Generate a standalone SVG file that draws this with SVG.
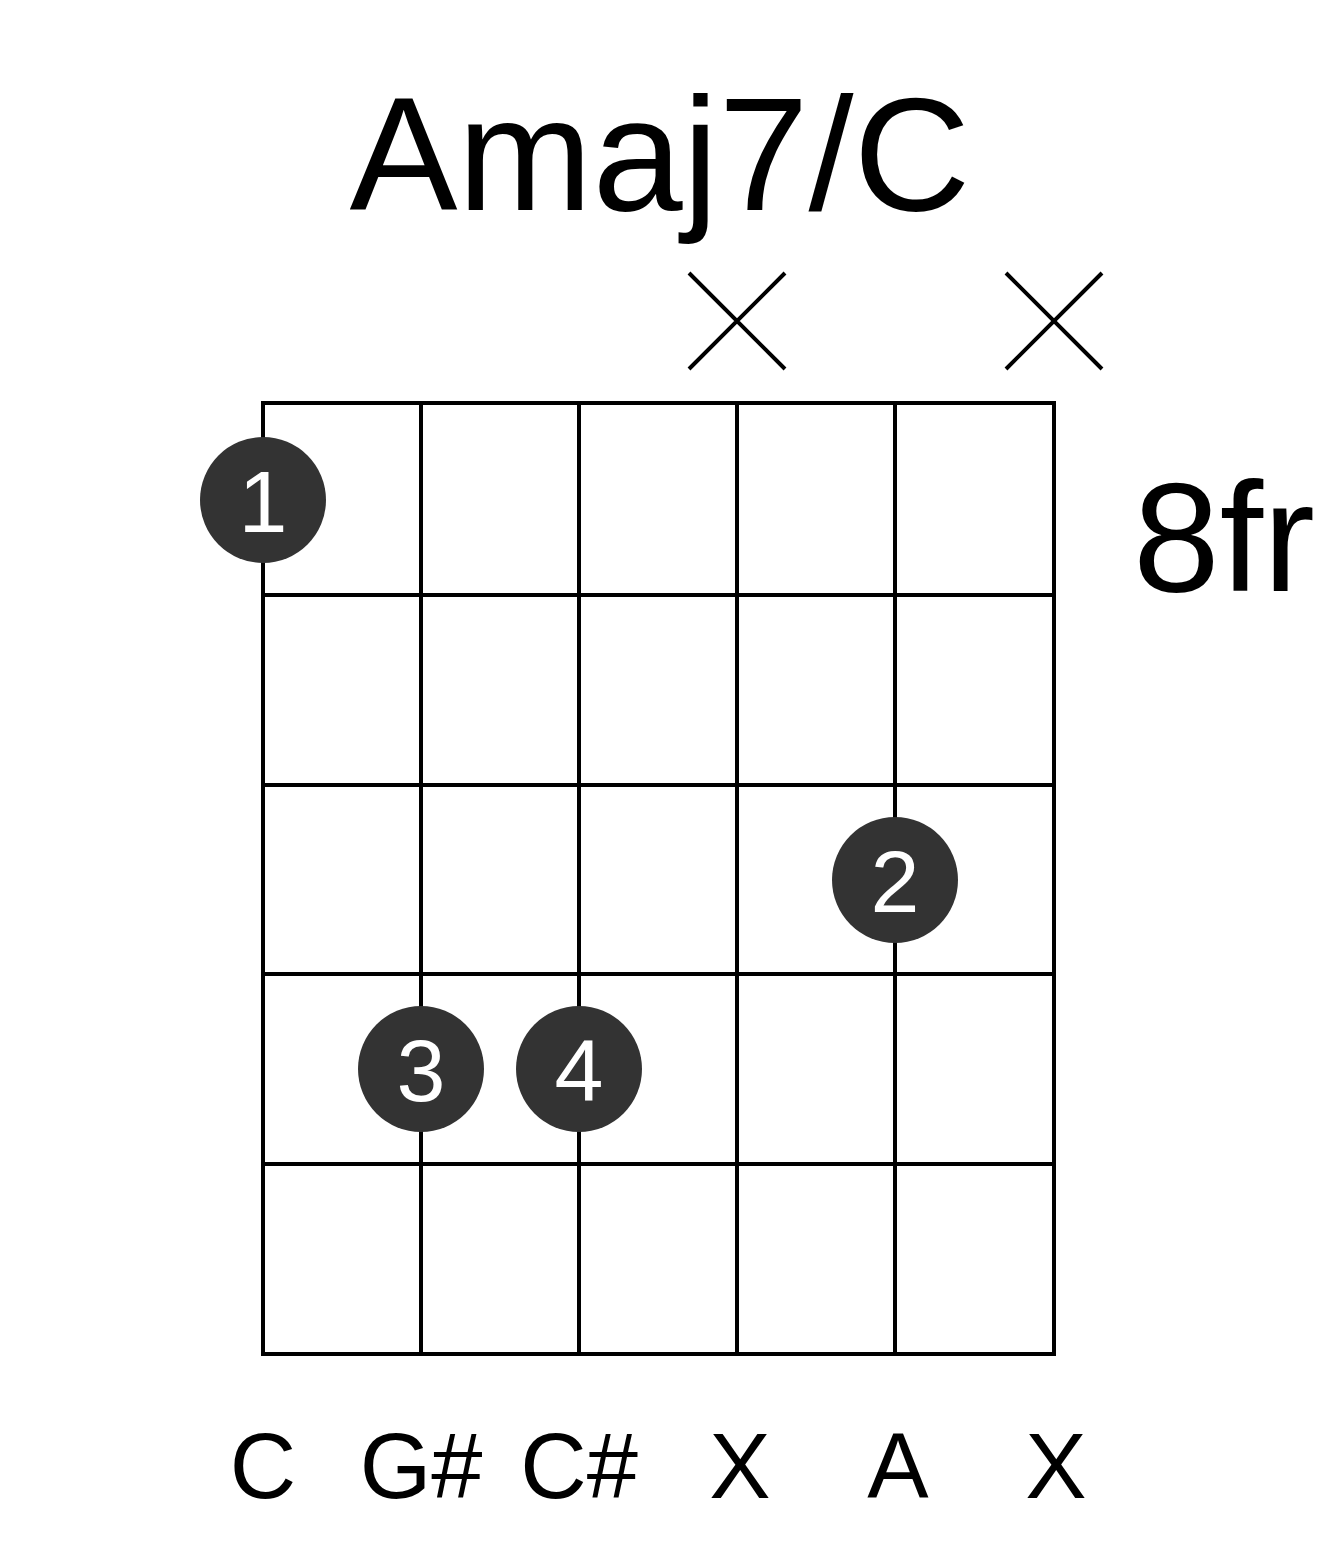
<svg xmlns="http://www.w3.org/2000/svg" width="1317" height="1551" viewBox="0 0 1317 1551">
<style>
.l{stroke:#000;stroke-width:4;fill:none}
.t{font-family:"Liberation Sans",Arial,sans-serif;fill:#000}
.d{fill:#333}
.n{font-family:"Liberation Sans",Arial,sans-serif;fill:#fff;font-size:88px;text-anchor:middle}
.b{font-size:92px;text-anchor:middle}
</style>
<rect width="1317" height="1551" fill="#fff"/>
<text class="t" x="660" y="210" font-size="162" text-anchor="middle">Amaj7/C</text>
<g class="l">
<path d="M689 273L785 369M785 273L689 369M1006 273L1102 369M1102 273L1006 369"/>
<rect x="263" y="403" width="791" height="951"/>
<path d="M421 403V1354M579 403V1354M737 403V1354M895 403V1354M263 595H1054M263 785H1054M263 974H1054M263 1164H1054"/>
</g>
<text class="t" x="1133" y="591" font-size="156">8fr</text>
<g id="f1"><circle class="d" cx="263" cy="500" r="63"/><text class="n" x="263" y="532">1</text></g>
<g id="f2"><circle class="d" cx="895" cy="880" r="63"/><text class="n" x="895" y="912">2</text></g>
<g id="f3"><circle class="d" cx="421" cy="1069" r="63"/><text class="n" x="421" y="1101">3</text></g>
<g id="f4"><circle class="d" cx="579" cy="1069" r="63"/><text class="n" x="579" y="1101">4</text></g>
<g class="t b">
<text x="263" y="1498">C</text><text x="421" y="1498">G#</text><text x="579" y="1498">C#</text><text x="740" y="1498">X</text><text x="898" y="1498">A</text><text x="1056" y="1498">X</text>
</g>
</svg>
